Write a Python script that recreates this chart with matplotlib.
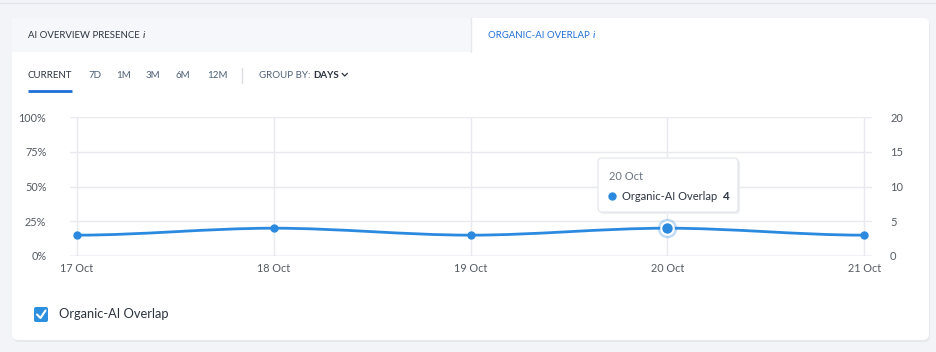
import numpy as np
import matplotlib.pyplot as plt
from matplotlib.patches import FancyBboxPatch, Rectangle, PathPatch
from matplotlib.path import Path

plt.rcParams['font.family'] = ['Lato', 'DejaVu Sans']

# Data
dates = ['17 Oct', '18 Oct', '19 Oct', '20 Oct', '21 Oct']
overlap = [3, 4, 3, 4, 3]
left_ticks = [0, 25, 50, 75, 100]
right_ticks = [0, 5, 10, 15, 20]
series_name = 'Organic-AI Overlap'
hover_idx = 3
periods = ['CURRENT', '7D', '1M', '3M', '6M', '12M']

BLUE = '#2b8ae0'
GRID = '#e8eaef'
TICK = '#555b63'
DARK = '#2c3440'
LINK = '#1f6fd6'

W, H = 936, 352
fig = plt.figure(figsize=(W / 100, H / 100), dpi=100, facecolor='#f3f4f8')

# Background layer in pixel coordinates
bg = fig.add_axes([0, 0, 1, 1])
bg.set_xlim(0, W)
bg.set_ylim(H, 0)
bg.axis('off')
bg.patch.set_alpha(0)


def after(prev, s, gap=2, **kw):
    # place a text right after another one
    return bg.annotate(s, xy=(1, 0.5), xycoords=prev, xytext=(gap, 0),
                       textcoords='offset pixels', va='center', **kw)


bg.plot([0, W], [3, 3], color='#e2e4ea', lw=1)
bg.add_patch(FancyBboxPatch((13, 20), 917, 322, boxstyle='round,pad=0,rounding_size=6',
                            fc='#e6e8ee', ec='none'))
bg.add_patch(FancyBboxPatch((12, 18), 917, 322, boxstyle='round,pad=0,rounding_size=6',
                            fc='white', ec='none'))
bg.add_patch(Rectangle((12, 18), 459, 34, fc='#f6f7fa', ec='none'))
bg.plot([471, 471], [18, 52], color='#e6e8ee', lw=1)

t = bg.text(28, 35, 'AI OVERVIEW PRESENCE', fontsize=6.9, color=DARK, va='center')
after(t, 'i', gap=3, fontsize=7.5, color=DARK, style='italic')
t = bg.text(488, 35, 'ORGANIC-AI OVERLAP', fontsize=6.9, color=LINK, va='center')
after(t, 'i', gap=3, fontsize=7.5, color=LINK, style='italic')

xs = [28, 88, 116, 146, 176, 207]
for i, (x, p) in enumerate(zip(xs, periods)):
    bg.text(x, 75, p, fontsize=7.0, va='center',
            color=DARK if i == 0 else '#4e6077')
bg.plot([28, 72], [90.5, 90.5], color=LINK, lw=2, solid_capstyle='butt')
bg.plot([242, 242], [68, 83], color='#dcdfe5', lw=1)
t = bg.text(259, 75, 'GROUP BY:', fontsize=7.0, color='#4e6077', va='center')
days = after(t, 'DAYS', gap=3, fontsize=7.0, color=DARK, weight='bold')

# chevron right after "DAYS"
fig.canvas.draw()
ext = days.get_window_extent()
cx = bg.transData.inverted().transform((ext.x1, 0))[0] + 3
bg.plot([cx, cx + 2.5, cx + 5], [73.5, 76, 73.5], color=DARK, lw=0.9)

# Legend checkbox
bg.add_patch(FancyBboxPatch((34, 307), 14, 15, boxstyle='round,pad=0,rounding_size=2',
                            fc='#2d8fdf', ec='none'))
bg.plot([37, 40.5, 45.5], [314.5, 318, 310.5], color='white', lw=1.5, solid_capstyle='round')
bg.text(59, 314, series_name, fontsize=9.3, color=DARK, va='center')

# Chart axes
ax = fig.add_axes([70 / W, (H - 256) / H, 802 / W, 139 / H])
ax.set_xlim(-0.036, 4.04)
ax.set_ylim(0, 100)
ax.set_yticks(left_ticks)
ax.set_yticklabels([f'{t}%' for t in left_ticks])
x = np.arange(len(dates))
ax.set_xticks(x)
ax.set_xticklabels(dates)
ax.grid(True, color=GRID, lw=1)
ax.set_axisbelow(True)
for s in ax.spines.values():
    s.set_visible(False)
ax.axhline(0, color='#ccd6eb', lw=1, zorder=1)
ax.tick_params(length=0, labelsize=7.8, labelcolor=TICK, pad=5)
ax.tick_params(axis='y', pad=17)
ax.patch.set_alpha(0)

ax2 = ax.twinx()
ax2.set_ylim(0, 20)
ax2.set_yticks(right_ticks)
for s in ax2.spines.values():
    s.set_visible(False)
ax2.tick_params(length=0, labelsize=8, labelcolor=TICK, pad=13)

# Smooth spline through the points (flat tangents, Bezier segments)
verts = [(x[0], overlap[0])]
codes = [Path.MOVETO]
for i in range(len(x) - 1):
    dx = (x[i + 1] - x[i]) / 3
    verts += [(x[i] + dx, overlap[i]), (x[i + 1] - dx, overlap[i + 1]), (x[i + 1], overlap[i + 1])]
    codes += [Path.CURVE4] * 3
ax2.add_patch(PathPatch(Path(verts, codes), fc='none', ec=BLUE, lw=2, zorder=3))
ax2.plot(x, overlap, 'o', color=BLUE, ms=5, zorder=4)
ax2.plot(x[hover_idx], overlap[hover_idx], 'o', color=BLUE, alpha=0.3, ms=14, mew=0, zorder=4)
ax2.plot(x[hover_idx], overlap[hover_idx], 'o', mfc=BLUE, mec='white', mew=1.5, ms=9, zorder=5)

# Tooltip
tt = bg.transData
ax2.add_patch(FancyBboxPatch((600, 160), 140, 54, boxstyle='round,pad=0,rounding_size=4',
                             fc='#eceef2', ec='none', transform=tt, clip_on=False, zorder=6))
ax2.add_patch(FancyBboxPatch((598, 158), 140, 54, boxstyle='round,pad=0,rounding_size=4',
                             fc='white', ec='#e3e5ea', lw=0.8, transform=tt, clip_on=False, zorder=7))
ax2.text(609, 176, dates[hover_idx], transform=tt, fontsize=8, color='#6b7480', va='center', zorder=8)
ax2.plot([611.5], [196], 'o', color=BLUE, ms=5, transform=tt, clip_on=False, zorder=8)
ax2.text(622, 196, series_name, transform=tt, fontsize=8.0, color=DARK, va='center', zorder=8)
ax2.text(723, 196, str(overlap[hover_idx]), transform=tt, fontsize=8.3, color=DARK,
         va='center', weight='bold', zorder=8)

fig.savefig('out.png', dpi=100, facecolor=fig.get_facecolor())
